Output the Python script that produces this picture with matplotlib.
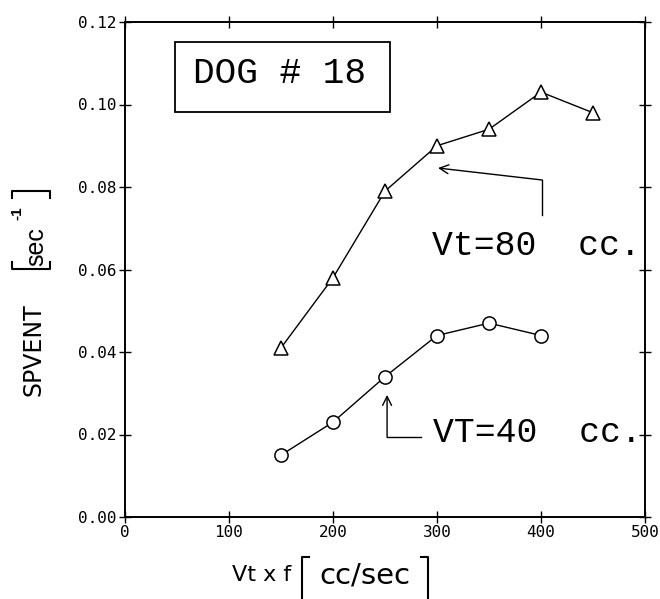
import matplotlib.pyplot as plt
from matplotlib.lines import Line2D
from matplotlib.patches import Rectangle

# flow (Vt x f) and SPVENT for the two tidal volumes
flow_80 = [150, 200, 250, 300, 350, 400, 450]
spvent_80 = [0.041, 0.058, 0.079, 0.090, 0.094, 0.103, 0.098]
flow_40 = [150, 200, 250, 300, 350, 400]
spvent_40 = [0.015, 0.023, 0.034, 0.044, 0.047, 0.044]

x_ticks = [0, 100, 200, 300, 400, 500]
y_ticks = [0.00, 0.02, 0.04, 0.06, 0.08, 0.10, 0.12]

W, H = 660, 599
LABEL_FONT = ['Liberation Sans Narrow', 'Liberation Sans']
PLOT_FONT = ['Liberation Mono', 'DejaVu Sans Mono']


def px(x, y):
    # pixel position (from top-left) -> figure fraction
    return x / W, 1 - y / H


def fig_line(fig, pts, lw=1.5):
    xs = [px(*p)[0] for p in pts]
    ys = [px(*p)[1] for p in pts]
    fig.add_artist(Line2D(xs, ys, color='k', lw=lw, transform=fig.transFigure))


def main():
    fig = plt.figure(figsize=(6.6, 5.99), dpi=100, facecolor='w')
    ax = fig.add_axes([125 / W, 1 - 517 / H, 520 / W, 495 / H])

    ax.plot(flow_80, spvent_80, color='k', lw=1.0, marker='^', ms=9.5,
            mfc='w', mec='k', mew=1.1)
    ax.plot(flow_40, spvent_40, color='k', lw=1.0, marker='o', ms=9.5,
            mfc='w', mec='k', mew=1.1)

    ax.set_xlim(0, 500)
    ax.set_ylim(0, 0.12)
    ax.set_xticks(x_ticks)
    ax.set_yticks(y_ticks)
    ax.set_xticklabels([str(v) for v in x_ticks], family='DejaVu Sans Mono', fontsize=11.5)
    ax.set_yticklabels(['%.2f' % v for v in y_ticks], family='DejaVu Sans Mono', fontsize=11.5)
    ax.tick_params(direction='inout', length=9, width=1.0, top=True, right=True,
                   pad=1.5)
    for s in ax.spines.values():
        s.set_linewidth(1.4)

    # y axis title, pieced together with tall brackets
    fig.text(*px(33, 350), 'SPVENT', rotation=90, ha='center', va='center',
             family='DejaVu Sans', fontsize=17)
    fig.text(*px(36, 247), 'sec', rotation=90, ha='center', va='center',
             family=LABEL_FONT, fontsize=18)
    fig.text(*px(17, 213), '-1', rotation=90, ha='center', va='center',
             family=LABEL_FONT, fontsize=11, weight='bold')
    fig_line(fig, [(12, 262), (12, 269), (50, 269), (50, 262)])
    fig_line(fig, [(12, 198), (12, 191), (50, 191), (50, 198)])

    # x axis title
    fig.text(*px(232, 575), 'Vt x f', ha='left', va='center',
             family='DejaVu Sans', fontsize=16)
    fig.text(*px(365, 575), 'cc/sec', ha='center', va='center',
             family='DejaVu Sans', fontsize=21)
    fig_line(fig, [(309, 557), (302, 557), (302, 599)])
    fig_line(fig, [(421, 557), (428, 557), (428, 599)])

    # label box
    ax.add_patch(Rectangle((48, 0.0983), 207, 0.0169, fill=False, ec='k', lw=1.3))
    ax.text(149, 0.1075, 'DOG # 18', fontsize=26, ha='center', va='center',
            family=PLOT_FONT)

    # Vt=80 pointer
    ax.plot([401, 401], [0.0732, 0.0817], color='k', lw=1.0)
    ax.annotate('', xy=(301, 0.0846), xytext=(401, 0.0817),
                arrowprops=dict(arrowstyle='->', color='k', lw=1.0,
                                mutation_scale=16, shrinkA=0, shrinkB=0))
    ax.text(295, 0.0657, 'Vt=80  cc.', fontsize=25, ha='left', va='center',
            family=PLOT_FONT)

    # VT=40 pointer
    ax.plot([285, 252], [0.0194, 0.0194], color='k', lw=1.0)
    ax.annotate('', xy=(252, 0.0296), xytext=(252, 0.0194),
                arrowprops=dict(arrowstyle='->', color='k', lw=1.0,
                                mutation_scale=16, shrinkA=0, shrinkB=0))
    ax.text(296, 0.0206, 'VT=40  cc.', fontsize=25, ha='left', va='center',
            family=PLOT_FONT)

    plt.savefig('out.png', dpi=100)


if __name__ == '__main__':
    main()
